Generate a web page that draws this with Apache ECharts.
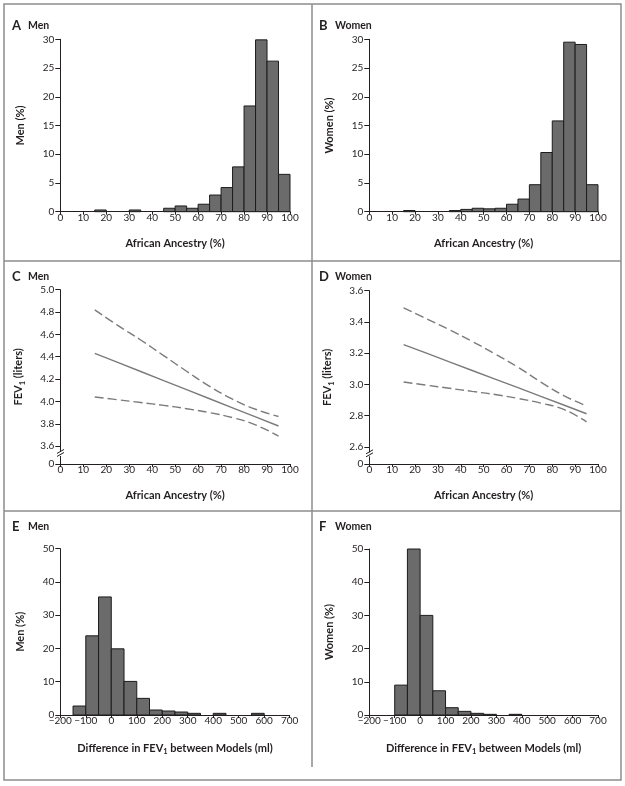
<!DOCTYPE html>
<html><head><meta charset="utf-8">
<script src="https://cdn.jsdelivr.net/npm/echarts@6/dist/echarts.min.js"></script>
<style>html,body{margin:0;padding:0;background:#fff}#c{width:625px;height:786px}</style>
</head><body><div id="c"></div>
<script>
// ---------- data ----------
const ancestryBinStart = [0,5,10,15,20,25,30,35,40,45,50,55,60,65,70,75,80,85,90,95];
const ancestryBinWidth = 5;
const menAncestryPct   = [0,0,0,0.3,0,0,0.3,0,0,0.6,1.0,0.6,1.3,2.9,4.2,7.8,18.4,29.9,26.2,6.5];
const womenAncestryPct = [0,0,0,0.2,0,0,0,0.2,0.4,0.6,0.5,0.6,1.3,2.2,4.7,10.3,15.8,29.5,29.1,4.7];

const fevAncestry   = [15,25,35,45,55,65,75,85,95];
const menFevMean    = [4.43,4.349,4.268,4.186,4.105,4.024,3.943,3.861,3.78];
const menFevUpper   = [4.82,4.68,4.55,4.41,4.27,4.135,4.02,3.93,3.865];
const menFevLower   = [4.04,4.015,3.99,3.965,3.935,3.90,3.855,3.79,3.69];
const womenFevMean  = [3.255,3.20,3.144,3.089,3.034,2.979,2.923,2.868,2.812];
const womenFevUpper = [3.49,3.42,3.35,3.275,3.195,3.11,3.015,2.928,2.862];
const womenFevLower = [3.015,2.995,2.975,2.955,2.935,2.91,2.88,2.84,2.76];

const diffBinStart = [-150,-100,-50,0,50,100,150,200,250,300,350,400,450,500,550,600,650];
const diffBinWidth = 50;
const menDiffPct   = [2.7,23.8,35.5,19.9,10.1,5.0,1.5,1.2,0.9,0.5,0,0.5,0,0,0.5,0,0];
const womenDiffPct = [0,9.0,50.0,30.0,7.3,2.2,1.1,0.5,0.2,0,0.2,0,0,0,0,0,0];

const menFevTicks   = [3.6,3.8,4.0,4.2,4.4,4.6,4.8,5.0];
const womenFevTicks = [2.6,2.8,3.0,3.2,3.4,3.6];
const menFevAxisBottom = 3.44;    // where "0" sits below the break
const womenFevAxisBottom = 2.49;

const panelLetters = ['A','B','C','D','E','F'];
const panelNames   = ['Men','Women','Men','Women','Men','Women'];

// ---------- styling ----------
const FONT = 'Lato';
const INK = '#231f20';
const BAR_FILL = '#6b6b6b';
const LINE_COL = '#7b7b7b';
const FRAME = '#8d8d8d';

const grids = [
  {left:60.3, top:39.3, width:229.7, height:172.4},
  {left:369.3, top:39.3, width:228.7, height:172.4},
  {left:60.3, top:289.7, width:229.7, height:174.3},
  {left:369.3, top:290.7, width:228.7, height:173.3},
  {left:60.3, top:548.7, width:229.4, height:166.3},
  {left:369.3, top:549, width:228.7, height:166}
];

const nameStyle = {fontFamily:FONT, fontWeight:'bold', fontSize:11, color:INK,
  rich:{a:{fontFamily:FONT, fontWeight:'bold', fontSize:11, color:INK},
        s:{fontFamily:FONT, fontWeight:'bold', fontSize:7.5, color:INK, padding:[7,0,0,0]}}};

const tickLabel = {fontFamily:FONT, fontSize:10, color:INK};

function xAx(g, min, max, interval, name){
  return {type:'value', gridIndex:g, min, max, interval, name,
    nameLocation:'middle', nameGap:26, nameTextStyle:nameStyle,
    axisLine:{show:true, onZero:false, lineStyle:{color:INK, width:1}},
    axisTick:{show:true, length:3, lineStyle:{color:INK, width:1}},
    axisLabel:Object.assign({margin:1,
      formatter:v=>String(v).replace('-','\u2212')}, tickLabel),
    splitLine:{show:false}};
}
function yAx(g, min, max, interval, name, extra){
  const ax = {type:'value', gridIndex:g, min, max, interval, name,
    nameLocation:'middle', nameGap:34, nameRotate:90, nameTextStyle:nameStyle,
    axisLine:{show:true, onZero:false, lineStyle:{color:INK, width:1}},
    axisTick:{show:true, length:5, lineStyle:{color:INK, width:1}},
    axisLabel:Object.assign({margin:6}, tickLabel),
    splitLine:{show:false}};
  return Object.assign(ax, extra||{});
}
function fevY(g, bottom, ticks){
  const vals = [bottom].concat(ticks);
  return yAx(g, bottom, ticks[ticks.length-1], null, '{a|FEV}{s|1}{a| (liters)}', {
    interval: undefined,
    axisTick:{show:true, length:5, lineStyle:{color:INK, width:1}, customValues:vals},
    axisLabel:Object.assign({margin:6, customValues:vals,
      formatter:v=> (v < ticks[0]-0.01 ? '0' : v.toFixed(1))}, tickLabel)
  });
}

function histRender(width){
  return function(params, api){
    const x0 = api.value(0), v = api.value(1);
    if (!v) return null;
    const p0 = api.coord([x0, v]);
    const p1 = api.coord([x0 + width, 0]);
    return {type:'rect', shape:{x:p0[0], y:p0[1], width:p1[0]-p0[0], height:p1[1]-p0[1]},
      style:{fill:BAR_FILL, stroke:'#1c1c1c', lineWidth:1}};
  };
}
function hist(g, starts, vals, width){
  return {type:'custom', xAxisIndex:g, yAxisIndex:g, renderItem:histRender(width),
    data:starts.map((s,i)=>[s, vals[i]]), silent:true, clip:false};
}
function fevLine(g, ys, dashed){
  return {type:'line', xAxisIndex:g, yAxisIndex:g, showSymbol:false, symbol:'none', silent:true,
    smooth: dashed ? 0.45 : false,
    data:fevAncestry.map((x,i)=>[x, ys[i]]),
    lineStyle:{color:LINE_COL, width:1.4, type: dashed ? [9,4] : 'solid'}};
}

const diffName = '{a|Difference in FEV}{s|1}{a| between Models (ml)}';

const titles = [
  {x:12, y:19}, {x:319, y:19}, {x:12, y:270}, {x:319, y:270}, {x:12, y:520}, {x:319, y:520}
].map((p,i)=>({left:p.x, top:p.y, padding:0, text:'{l|'+panelLetters[i]+'}{m|'+panelNames[i]+'}',
  textStyle:{rich:{
    l:{fontFamily:FONT, fontWeight:'bold', fontSize:13, color:INK, width:16},
    m:{fontFamily:FONT, fontWeight:'bold', fontSize:10.5, color:INK}}}}));

const option = {
  animation:false,
  backgroundColor:'#fff',
  title:titles,
  grid:grids,
  xAxis:[
    xAx(0,0,100,10,'African Ancestry (%)'),
    xAx(1,0,100,10,'African Ancestry (%)'),
    xAx(2,0,100,10,'African Ancestry (%)'),
    xAx(3,0,100,10,'African Ancestry (%)'),
    xAx(4,-200,700,100,diffName),
    xAx(5,-200,700,100,diffName)
  ],
  yAxis:[
    yAx(0,0,30,5,'Men (%)'),
    yAx(1,0,30,5,'Women (%)'),
    fevY(2, menFevAxisBottom, menFevTicks),
    fevY(3, womenFevAxisBottom, womenFevTicks),
    yAx(4,0,50,10,'Men (%)'),
    yAx(5,0,50,10,'Women (%)')
  ],
  series:[
    hist(0, ancestryBinStart, menAncestryPct, ancestryBinWidth),
    hist(1, ancestryBinStart, womenAncestryPct, ancestryBinWidth),
    fevLine(2, menFevUpper, true), fevLine(2, menFevMean, false), fevLine(2, menFevLower, true),
    fevLine(3, womenFevUpper, true), fevLine(3, womenFevMean, false), fevLine(3, womenFevLower, true),
    hist(4, diffBinStart, menDiffPct, diffBinWidth),
    hist(5, diffBinStart, womenDiffPct, diffBinWidth)
  ]
};

const chart = echarts.init(document.getElementById('c'), null, {renderer:'canvas'});
chart.setOption(option);

// frame + axis break marks
function breakMark(g, yv, xv){
  const p = chart.convertToPixel({gridIndex:g}, [xv, yv]);
  const x = Math.round(p[0]) + 0.5, y = p[1];
  return [
    {type:'rect', shape:{x:x-3, y:y-2, width:6, height:4}, style:{fill:'#fff'}, z:100},
    {type:'line', shape:{x1:x-3.5, y1:y-0.5, x2:x+3.5, y2:y-4.5}, style:{stroke:INK, lineWidth:1}, z:101},
    {type:'line', shape:{x1:x-3.5, y1:y+2.5, x2:x+3.5, y2:y-1.5}, style:{stroke:INK, lineWidth:1}, z:101}
  ];
}
const graphics = [
  {type:'rect', shape:{x:4, y:4, width:617, height:776}, style:{fill:'none', stroke:FRAME, lineWidth:1.5}, z:50},
  {type:'line', shape:{x1:4, y1:261, x2:621, y2:261}, style:{stroke:FRAME, lineWidth:1.5}, z:50},
  {type:'line', shape:{x1:4, y1:511, x2:621, y2:511}, style:{stroke:FRAME, lineWidth:1.5}, z:50},
  {type:'line', shape:{x1:312, y1:4, x2:312, y2:767}, style:{stroke:FRAME, lineWidth:1.5}, z:50}
].concat(breakMark(2, (menFevAxisBottom + menFevTicks[0])/2 + 0.01, 0))
 .concat(breakMark(3, (womenFevAxisBottom + womenFevTicks[0])/2 + 0.007, 0));
chart.setOption({graphic:graphics});
</script>
</body></html>
